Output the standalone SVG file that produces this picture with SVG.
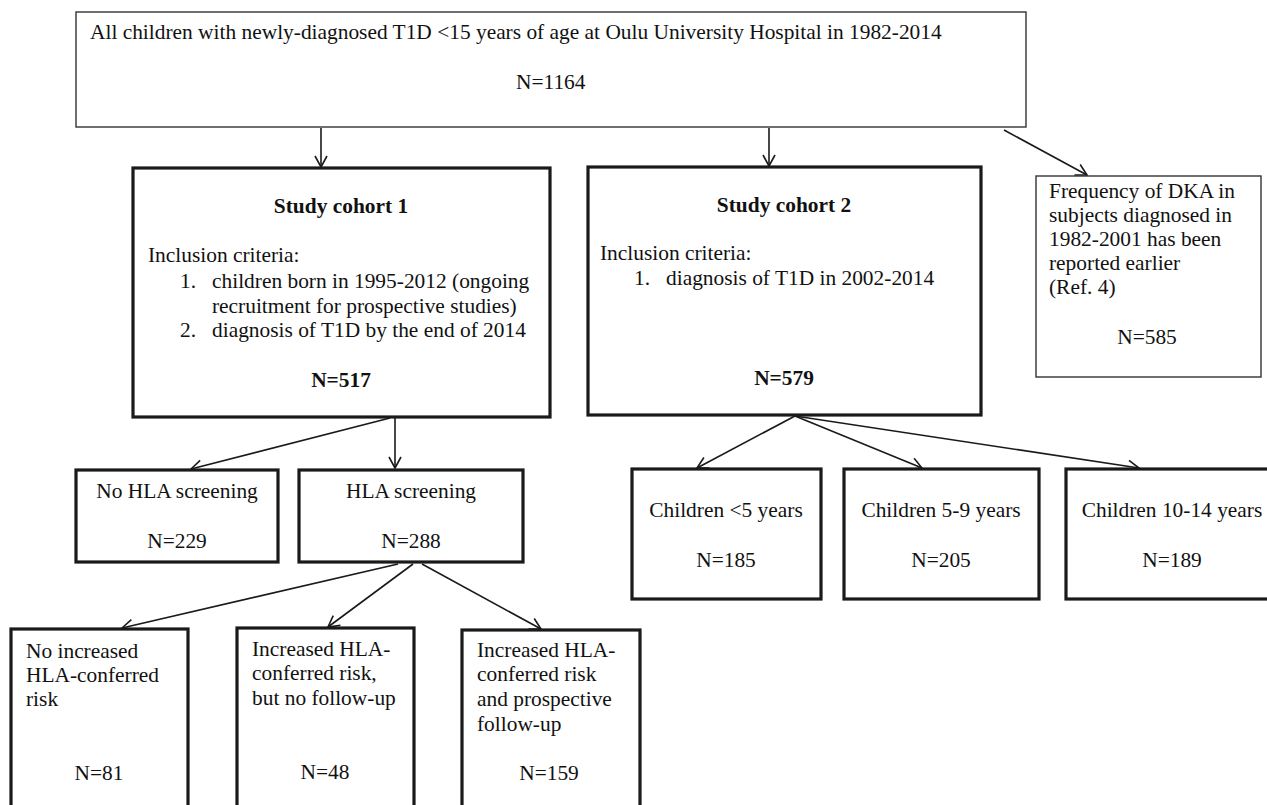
<svg xmlns="http://www.w3.org/2000/svg" width="1267" height="805" viewBox="0 0 1267 805">
<style>
.t{font-family:"Liberation Serif","Times New Roman",serif;font-size:21.4px;fill:#111}
.b{font-weight:bold}
.m{text-anchor:middle}
.thin{fill:#fff;stroke:#333;stroke-width:1.4}
.thick{fill:#fff;stroke:#1a1a1a;stroke-width:3.2}
.c{fill:none;stroke:#1a1a1a;stroke-width:1.6}
</style>
<defs>
<marker id="arr" viewBox="-13 -8 15 16" refX="0" refY="0" markerWidth="15" markerHeight="16" markerUnits="userSpaceOnUse" orient="auto">
<path d="M-11,-6 L0,0 L-11,6" fill="none" stroke="#1a1a1a" stroke-width="1.6"/>
</marker>
</defs>
<rect width="1267" height="805" fill="#fff"/>

<g id="connectors">
<line class="c" x1="321" y1="128" x2="321" y2="167" marker-end="url(#arr)"/>
<line class="c" x1="769" y1="128" x2="769" y2="166" marker-end="url(#arr)"/>
<line class="c" x1="1004" y1="130" x2="1087" y2="175" marker-end="url(#arr)"/>
<line class="c" x1="390" y1="418" x2="191" y2="469" marker-end="url(#arr)"/>
<line class="c" x1="395" y1="418" x2="395" y2="468" marker-end="url(#arr)"/>
<line class="c" x1="398" y1="564" x2="122" y2="628" marker-end="url(#arr)"/>
<line class="c" x1="413" y1="564" x2="328" y2="627" marker-end="url(#arr)"/>
<line class="c" x1="422" y1="564" x2="541" y2="629" marker-end="url(#arr)"/>
<line class="c" x1="795" y1="416" x2="697" y2="468" marker-end="url(#arr)"/>
<line class="c" x1="795" y1="416" x2="922" y2="468" marker-end="url(#arr)"/>
<line class="c" x1="795" y1="416" x2="1139" y2="468" marker-end="url(#arr)"/>
</g>

<g id="all">
<rect class="thin" x="76" y="12" width="950" height="115"/>
<text class="t" x="90" y="39">All children with newly-diagnosed T1D &lt;15 years of age at Oulu University Hospital in 1982-2014</text>
<text class="t" x="516" y="89">N=1164</text>
</g>

<g id="cohort1">
<rect class="thick" x="133" y="168" width="417" height="249"/>
<text class="t b m" x="341" y="213">Study cohort 1</text>
<text class="t" x="148" y="262">Inclusion criteria:</text>
<text class="t" x="180" y="288">1.</text>
<text class="t" x="212" y="288">children born in 1995-2012 (ongoing</text>
<text class="t" x="212" y="313">recruitment for prospective studies)</text>
<text class="t" x="180" y="337">2.</text>
<text class="t" x="212" y="337">diagnosis of T1D by the end of 2014</text>
<text class="t b m" x="341" y="387">N=517</text>
</g>

<g id="cohort2">
<rect class="thick" x="588" y="167" width="393" height="248"/>
<text class="t b m" x="784" y="212">Study cohort 2</text>
<text class="t" x="600" y="260">Inclusion criteria:</text>
<text class="t" x="634" y="285">1.</text>
<text class="t" x="666" y="285">diagnosis of T1D in 2002-2014</text>
<text class="t b m" x="784" y="385">N=579</text>
</g>

<g id="dka">
<rect class="thin" x="1036" y="176" width="225" height="201"/>
<text class="t" x="1049" y="198">Frequency of DKA in</text>
<text class="t" x="1049" y="222">subjects diagnosed in</text>
<text class="t" x="1049" y="246">1982-2001 has been</text>
<text class="t" x="1049" y="270">reported earlier</text>
<text class="t" x="1049" y="294">(Ref. 4)</text>
<text class="t m" x="1147" y="344">N=585</text>
</g>

<g id="nohla">
<rect class="thick" x="76" y="470" width="202" height="92"/>
<text class="t m" x="177" y="498">No HLA screening</text>
<text class="t m" x="177" y="548">N=229</text>
</g>

<g id="hla">
<rect class="thick" x="299" y="470" width="224" height="92"/>
<text class="t m" x="411" y="498">HLA screening</text>
<text class="t m" x="411" y="548">N=288</text>
</g>

<g id="noincreased">
<rect class="thick" x="11" y="629" width="177" height="190"/>
<text class="t" x="26" y="658">No increased</text>
<text class="t" x="26" y="682">HLA-conferred</text>
<text class="t" x="26" y="706">risk</text>
<text class="t m" x="99" y="780">N=81</text>
</g>

<g id="increased-nofollow">
<rect class="thick" x="237" y="628" width="177" height="190"/>
<text class="t" x="252" y="656">Increased HLA-</text>
<text class="t" x="252" y="680">conferred risk,</text>
<text class="t" x="252" y="705">but no follow-up</text>
<text class="t m" x="325" y="779">N=48</text>
</g>

<g id="increased-follow">
<rect class="thick" x="462" y="630" width="178" height="190"/>
<text class="t" x="477" y="657">Increased HLA-</text>
<text class="t" x="477" y="681">conferred risk</text>
<text class="t" x="477" y="706">and prospective</text>
<text class="t" x="477" y="731">follow-up</text>
<text class="t m" x="549" y="780">N=159</text>
</g>

<g id="under5">
<rect class="thick" x="632" y="469" width="189" height="130"/>
<text class="t m" x="726" y="517">Children &lt;5 years</text>
<text class="t m" x="726" y="567">N=185</text>
</g>

<g id="age5to9">
<rect class="thick" x="844" y="469" width="195" height="130"/>
<text class="t m" x="941" y="517">Children 5-9 years</text>
<text class="t m" x="941" y="567">N=205</text>
</g>

<g id="age10to14">
<rect class="thick" x="1066" y="469" width="214" height="130"/>
<text class="t m" x="1172" y="517">Children 10-14 years</text>
<text class="t m" x="1172" y="567">N=189</text>
</g>
</svg>
